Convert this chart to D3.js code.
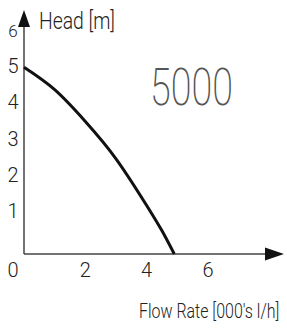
<!DOCTYPE html>
<html>
<head>
<meta charset="utf-8">
<script src="https://cdn.jsdelivr.net/npm/d3@7"></script>
<style>
  body { margin: 0; background: #fff; }
  text { font-family: Roboto, "Open Sans", sans-serif; font-weight: 300; fill: #222; }
</style>
</head>
<body>
<div id="chart"></div>
<script>
// pump curve
const flowRate = [0, 1, 2, 3, 4, 4.5, 4.9];
const head = [5, 4.4, 3.55, 2.55, 1.3, 0.62, 0];
const xTicks = [2, 4, 6];
const yTicks = [1, 2, 3, 4, 5, 6];
const modelName = "5000";

const width = 287, height = 330;
const svg = d3.select("#chart")
              .append("svg")
              .attr("width", width)
              .attr("height", height);

const x = d3.scaleLinear().domain([0, 6]).range([24, 208]);
const y = d3.scaleLinear().domain([0, 6]).range([254, 30]);
// tick text sits a little higher than the marks
const yLab = d3.scaleLinear().domain([0, 6]).range([247, 30]);

// axes
svg.append("line")
   .attr("x1", x(0)).attr("x2", 268)
   .attr("y1", y(0)).attr("y2", y(0))
   .attr("stroke", "#444").attr("stroke-width", 1.5);
svg.append("line")
   .attr("x1", x(0)).attr("x2", x(0))
   .attr("y1", y(0)).attr("y2", 24)
   .attr("stroke", "#444").attr("stroke-width", 1.5);
// arrow heads
svg.append("path")
   .attr("d", `M${x(0)},10 L${x(0) - 6},27 L${x(0) + 6},27 Z`)
   .attr("fill", "#111");
svg.append("path")
   .attr("d", `M284,${y(0)} L265,${y(0) - 6.5} L265,${y(0) + 6.5} Z`)
   .attr("fill", "#111");

// tick labels
svg.selectAll(".xlab")
   .data(xTicks)
   .enter()
   .append("text")
   .attr("class", "xlab")
   .attr("x", d => x(d))
   .attr("y", 277)
   .attr("text-anchor", "middle")
   .style("font-size", "20px")
   .text(d => d);
svg.append("text")
   .attr("x", 13)
   .attr("y", 277)
   .attr("text-anchor", "middle")
   .style("font-size", "20px")
   .text("0");
svg.selectAll(".ylab")
   .data(yTicks)
   .enter()
   .append("text")
   .attr("class", "ylab")
   .attr("x", 13)
   .attr("y", d => yLab(d) + 7)
   .attr("text-anchor", "middle")
   .style("font-size", d => d == 6 ? "17px" : "20px")
   .text(d => d);

// titles
svg.append("text")
   .attr("x", 39)
   .attr("y", 29)
   .attr("textLength", 76)
   .attr("lengthAdjust", "spacingAndGlyphs")
   .style("font-size", "23px")
   .text("Head [m]");
svg.append("text")
   .attr("transform", "translate(139,318) scale(0.76,1)")
   .style("font-size", "21px")
   .text("Flow Rate [000's l/h]");
svg.append("text")
   .attr("x", 150)
   .attr("y", 105)
   .attr("textLength", 83)
   .attr("lengthAdjust", "spacingAndGlyphs")
   .style("font-weight", 200)
   .style("font-size", "52px")
   .style("fill", "#555")
   .text(modelName);

// curve
const line = d3.line()
               .x((d, i) => x(flowRate[i]))
               .y(d => y(d))
               .curve(d3.curveNatural);
svg.append("path")
   .datum(head)
   .attr("d", line)
   .attr("fill", "none")
   .attr("stroke", "#111")
   .attr("stroke-width", 3);
</script>
</body>
</html>
